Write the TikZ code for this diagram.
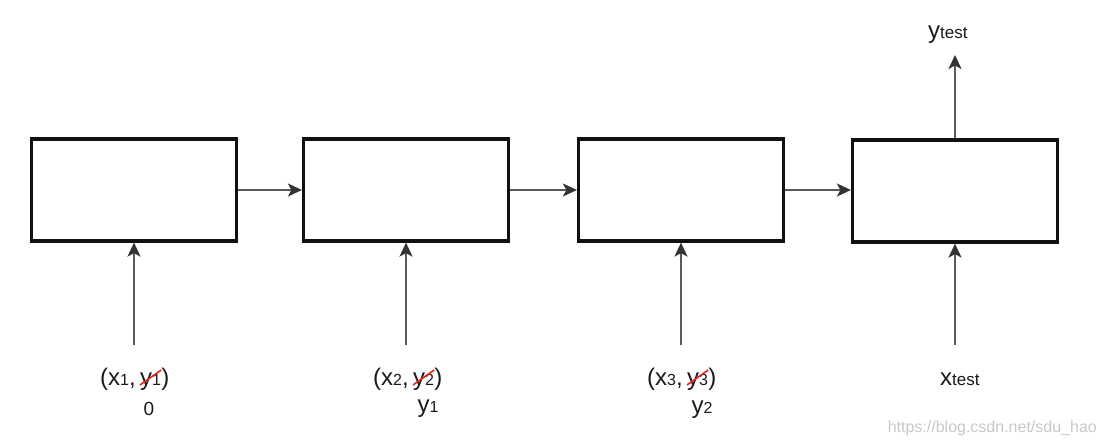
\documentclass[tikz,border=0pt]{standalone}
\usepackage{fontspec}
\setmainfont{Liberation Sans}
\usetikzlibrary{arrows.meta}
\definecolor{arrgray}{HTML}{5A5A5A}
\definecolor{headgray}{HTML}{333333}
\definecolor{boxblack}{HTML}{111111}
\definecolor{strikered}{HTML}{E8231F}
\definecolor{wmgray}{HTML}{C8C8C8}
\definecolor{txt}{HTML}{1A1A1A}
\newcommand\sbs[1]{{\fontsize{16}{16}\selectfont #1}}
\newcommand\sbt[1]{{\fontsize{17}{17}\selectfont #1}}
\tikzset{
  blk/.style={draw=boxblack, line width=3.2pt, minimum width=205pt, minimum height=102pt, inner sep=0pt},
  conn/.style={draw=arrgray, line width=1.8pt, -{Stealth[length=14pt,width=13pt,inset=3.5pt,color=headgray]}},
  lbl/.style={inner sep=0pt, text=txt, font=\fontsize{24}{24}\selectfont},
  small/.style={inner sep=0pt, text=txt, font=\fontsize{19}{19}\selectfont},
  strike/.style={draw=strikered, line width=1.6pt},
  wm/.style={inner sep=0pt, text=wmgray, font=\fontsize{16}{16}\selectfont},
}
\begin{document}
\begin{tikzpicture}[x=1pt,y=-1pt]
\useasboundingbox (0,0) rectangle (1108,444);
% boxes
\node[blk] (b1) at (134,190) {};
\node[blk] (b2) at (406,190) {};
\node[blk] (b3) at (681,190) {};
\node[blk] (b4) at (955,191) {};
% horizontal connectors
\draw[conn] (b1.east) -- (b2.west);
\draw[conn] (b2.east) -- (b3.west);
\draw[conn] (b3.east) -- (b3.east -| b4.west);
% inputs
\coordinate (i1) at (134,345);
\coordinate (i2) at (406,345);
\coordinate (i3) at (681,345);
\coordinate (i4) at (955,345);
\draw[conn] (i1) -- (b1.south);
\draw[conn] (i2) -- (b2.south);
\draw[conn] (i3) -- (b3.south);
\draw[conn] (i4) -- (b4.south);
% output
\coordinate (o4) at (955,55);
\draw[conn] (b4.north) -- (o4);
% label 1
\node[lbl, anchor=base west] (l1a) at (100,385) {(x\sbs{1},\,};
\node[lbl, anchor=base west] (l1y) at (l1a.base east) {y\sbs{1}};
\node[lbl, anchor=base west] (l1c) at (l1y.base east) {)};
\draw[strike] (l1y.base west) -- ([yshift=15pt]l1y.base east);
\node[small, anchor=base] (u1) at (149,415) {0};
% label 2
\node[lbl, anchor=base west] (l2a) at (373,385) {(x\sbs{2},\,};
\node[lbl, anchor=base west] (l2y) at (l2a.base east) {y\sbs{2}};
\node[lbl, anchor=base west] (l2c) at (l2y.base east) {)};
\draw[strike] (l2y.base west) -- ([yshift=15pt]l2y.base east);
\node[lbl, anchor=base] (u2) at (428,412) {y\sbs{1}};
% label 3
\node[lbl, anchor=base west] (l3a) at (647,385) {(x\sbs{3},\,};
\node[lbl, anchor=base west] (l3y) at (l3a.base east) {y\sbs{3}};
\node[lbl, anchor=base west] (l3c) at (l3y.base east) {)};
\draw[strike] (l3y.base west) -- ([yshift=15pt]l3y.base east);
\node[lbl, anchor=base] (u3) at (702,413) {y\sbs{2}};
% test labels
\node[lbl, anchor=base west] (xt) at (940,385) {x\sbt{test}};
\node[lbl, anchor=base west] (yt) at (928,39) {y\sbt{test}};
% watermark
\node[wm, anchor=base east] (wmk) at (1097,432) {https://blog.csdn.net/sdu\_hao};
\end{tikzpicture}
\end{document}
